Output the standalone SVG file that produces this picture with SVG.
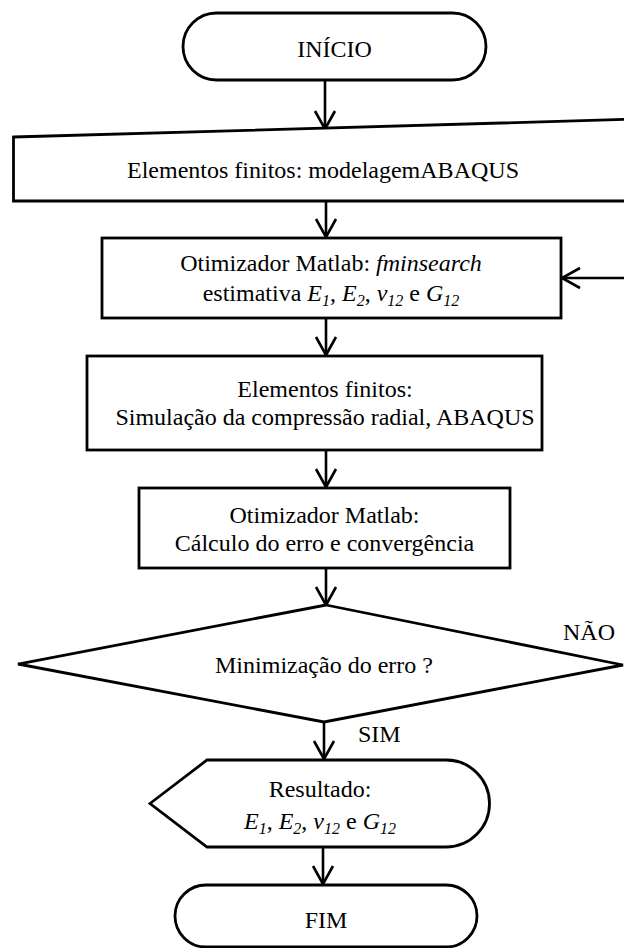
<svg xmlns="http://www.w3.org/2000/svg" width="624" height="948" viewBox="0 0 624 948">
<style>
.s{fill:#fff;stroke:#000;stroke-width:2.8;stroke-linejoin:miter}
.t{font-family:"Liberation Serif","Times New Roman",serif;font-size:24px;fill:#000;text-anchor:middle}
.l{font-family:"Liberation Serif","Times New Roman",serif;font-size:24px;fill:#000}
.i{font-style:italic}
.sub{font-style:italic;font-size:16px}
.c{fill:none;stroke:#000;stroke-width:2.6}
</style>
<defs>
<marker id="arr" viewBox="-21 -13 24 26" refX="0" refY="0" markerWidth="24" markerHeight="26" orient="auto" markerUnits="userSpaceOnUse">
<path d="M-18,-10 L0,0 L-18,10" fill="none" stroke="#000" stroke-width="2.6"/>
</marker>
</defs>
<g id="connectors">
<path class="c" d="M325,80 V129" marker-end="url(#arr)"/>
<path class="c" d="M326,201 V237" marker-end="url(#arr)"/>
<path class="c" d="M326,318 V355" marker-end="url(#arr)"/>
<path class="c" d="M326,450 V487" marker-end="url(#arr)"/>
<path class="c" d="M326,568 V605" marker-end="url(#arr)"/>
<path class="c" d="M324,722 V759" marker-end="url(#arr)"/>
<path class="c" d="M323,847 V884" marker-end="url(#arr)"/>
<path class="c" d="M630,665 V278 H562" marker-end="url(#arr)"/>
</g>
<g id="inicio">
<rect class="s" x="183" y="13" width="303" height="67" rx="33.5" ry="33.5"/>
<text class="t" x="334.5" y="57">INÍCIO</text>
</g>
<g id="modelagem">
<path class="s" d="M13.5,137 L640,119 V201 H13.5 Z"/>
<text class="t" x="323" y="178">Elementos finitos: modelagemABAQUS</text>
</g>
<g id="otimizador1">
<rect class="s" x="102" y="238" width="459" height="80"/>
<text class="t" x="331" y="271">Otimizador Matlab: <tspan class="i">fminsearch</tspan></text>
<text class="t" x="331" y="301">estimativa <tspan class="i">E</tspan><tspan class="sub" dy="5">1</tspan><tspan dy="-5">, </tspan><tspan class="i">E</tspan><tspan class="sub" dy="5">2</tspan><tspan dy="-5">, </tspan><tspan class="i">ν</tspan><tspan class="sub" dy="5">12</tspan><tspan dy="-5"> e </tspan><tspan class="i">G</tspan><tspan class="sub" dy="5">12</tspan></text>
</g>
<g id="simulacao">
<rect class="s" x="87" y="356" width="455" height="94"/>
<text class="t" x="325" y="397">Elementos finitos:</text>
<text class="t" x="325" y="425">Simulação da compressão radial, ABAQUS</text>
</g>
<g id="otimizador2">
<rect class="s" x="139" y="488" width="371" height="80"/>
<text class="t" x="324.5" y="523">Otimizador Matlab:</text>
<text class="t" x="324.5" y="551">Cálculo do erro e convergência</text>
</g>
<g id="decisao">
<path class="s" d="M326,605 L623,665 L324,722 L18,664 Z"/>
<text class="t" x="324" y="673">Minimização do erro ?</text>
<text class="l" x="563" y="640">NÃO</text>
<text class="l" x="358" y="742">SIM</text>
</g>
<g id="resultado">
<path class="s" d="M150,803.5 L207,760 H446 A43.5,43.5 0 0 1 446,847 H207 Z"/>
<text class="t" x="320" y="797">Resultado:</text>
<text class="t" x="320" y="829"><tspan class="i">E</tspan><tspan class="sub" dy="5">1</tspan><tspan dy="-5">, </tspan><tspan class="i">E</tspan><tspan class="sub" dy="5">2</tspan><tspan dy="-5">, </tspan><tspan class="i">ν</tspan><tspan class="sub" dy="5">12</tspan><tspan dy="-5"> e </tspan><tspan class="i">G</tspan><tspan class="sub" dy="5">12</tspan></text>
</g>
<g id="fim">
<rect class="s" x="175" y="885" width="302" height="62" rx="31" ry="31"/>
<text class="t" x="326" y="928">FIM</text>
</g>
</svg>
